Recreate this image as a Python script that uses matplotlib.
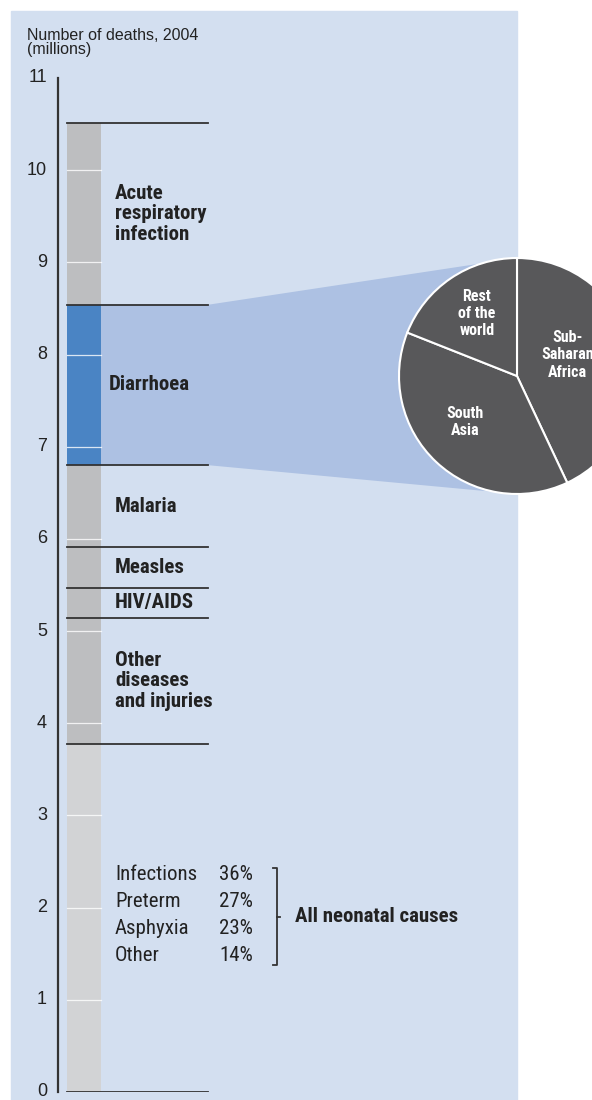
import matplotlib
matplotlib.use("Agg")
import matplotlib.pyplot as plt
from matplotlib.patches import Rectangle, Polygon
import numpy as np
import logging

logging.getLogger("matplotlib.font_manager").setLevel(logging.ERROR)

# stacked causes of under-five deaths, bottom to top (millions)
causes = ["All neonatal causes", "Other\ndiseases\nand injuries", "HIV/AIDS",
          "Measles", "Malaria", "Diarrhoea", "Acute\nrespiratory\ninfection"]
deaths = [3.78, 1.36, 0.33, 0.44, 0.89, 1.74, 1.97]

# neonatal breakdown
neonatal_causes = ["Infections", "Preterm", "Asphyxia", "Other"]
neonatal_pct = [36, 27, 23, 14]

# diarrhoea deaths by region (%)
regions = ["Sub-\nSaharan\nAfrica", "South\nAsia", "Rest\nof the\nworld"]
region_share = [43, 38, 19]

yticks = list(range(12))

W, H = 592, 1100
NARROW = ["Roboto Condensed", "Archivo Narrow", "PT Sans Narrow",
          "Liberation Sans Narrow", "Liberation Sans", "DejaVu Sans"]
REG = ["Liberation Sans", "DejaVu Sans"]
panel_c = "#d3dff0"
band_c = "#adc1e3"
blue_c = "#4a84c4"
gray_c = "#bdbec0"
lgray_c = "#d2d3d5"
line_c = "#333333"
pie_c = "#58585a"
txt_c = "#222222"

fig = plt.figure(figsize=(W / 100, H / 100), dpi=100, facecolor="white")
fig.add_artist(Rectangle((11 / W, 0), (517 - 11) / W, (H - 11) / H,
                         transform=fig.transFigure, color=panel_c, zorder=-5))

# main axes: x in pixels from the spine, y in millions
ax = fig.add_axes([58 / W, 8 / H, 459 / W, 1014 / H])
ax.set_xlim(0, 459)
ax.set_ylim(0, 11)
ax.patch.set_visible(False)
for s in ["top", "right", "bottom"]:
    ax.spines[s].set_visible(False)
ax.spines["left"].set_color(line_c)
ax.spines["left"].set_linewidth(1.6)
ax.set_xticks([])
ax.set_yticks(yticks)
ax.tick_params(axis="y", length=0, pad=8, labelsize=13, labelcolor=txt_c)
for lab in ax.get_yticklabels():
    lab.set_family(REG)
    lab.set_verticalalignment("center")

# pie axes
cx, cy, r = 517, 376, 118
pax = fig.add_axes([(cx - r) / W, (H - cy - r) / H, 2 * r / W, 2 * r / H])
wedges, _ = pax.pie(region_share, startangle=90, counterclock=False,
                    colors=[pie_c] * 3,
                    wedgeprops=dict(edgecolor="white", linewidth=1.5))
pax.set_xlim(-1, 1)
pax.set_ylim(-1, 1)
pax.set_zorder(3)
label_pos = [(0.43, 0.18), (-0.44, -0.39), (-0.34, 0.53)]
for name, (lx, ly) in zip(regions, label_pos):
    pax.text(lx, ly, name, ha="center", va="center", color="white",
             fontsize=11.5, fontweight="bold", family=NARROW, linespacing=1.2)

bottoms = np.concatenate([[0], np.cumsum(deaths)[:-1]])
tops = np.cumsum(deaths)
colors = [lgray_c, gray_c, gray_c, gray_c, gray_c, blue_c, gray_c]

# band linking diarrhoea to pie
d_i = causes.index("Diarrhoea")
to_data = ax.transData.inverted()
fig.canvas.draw()
pt_top = to_data.transform(pax.transData.transform((0, 1)))
pt_bot = to_data.transform(pax.transData.transform((0, -1)))
band = Polygon([(43, tops[d_i]), (150, tops[d_i]), tuple(pt_top),
                tuple(pt_bot), (150, bottoms[d_i]), (43, bottoms[d_i])],
               closed=True, color=band_c, lw=0, zorder=1)
ax.add_patch(band)

ax.bar(26, deaths, bottom=bottoms, width=34, color=colors, lw=0, zorder=2)
for t in yticks[1:-1]:
    ax.plot([9, 43], [t, t], color="white", lw=0.9, alpha=0.8, zorder=2.5)
for y in np.concatenate([[0], tops]):
    ax.plot([9, 150], [y, y], color=line_c, lw=1.3, zorder=3)

for i, name in enumerate(causes[1:], start=1):
    mid = (bottoms[i] + tops[i]) / 2
    lx = 51 if name == "Diarrhoea" else 57
    ax.text(lx, mid, name, ha="left", va="center", fontsize=15,
            fontweight="bold", family=NARROW, color=txt_c,
            linespacing=1.1, zorder=4)

# neonatal breakdown list
row_mid = deaths[0] / 2 + 0.03
rows = row_mid + 0.29 * (1.5 - np.arange(len(neonatal_causes)))
for name, pct, y in zip(neonatal_causes, neonatal_pct, rows):
    ax.text(57, y, name, ha="left", va="center", fontsize=15,
            family=NARROW, color=txt_c)
    ax.text(161, y, f"{pct}%", ha="left", va="center", fontsize=15,
            family=NARROW, color=txt_c)
b_top, b_bot = rows[0] + 0.07, rows[-1] - 0.11
bm = (b_top + b_bot) / 2
ax.plot([215, 219, 219, 215], [b_top, b_top, b_bot, b_bot], color=line_c, lw=1.3)
ax.plot([219, 221.5], [bm, bm], color=line_c, lw=1.3)
ax.text(237, bm, causes[0], ha="left", va="center", fontsize=15,
        fontweight="bold", family=NARROW, color=txt_c)

fig.text(27 / W, 1 - 28 / H, "Number of deaths, 2004\n(millions)", ha="left",
         va="top", fontsize=11.5, family=REG, color=txt_c, linespacing=0.95)

fig.savefig("out.png", dpi=100, facecolor="white")
